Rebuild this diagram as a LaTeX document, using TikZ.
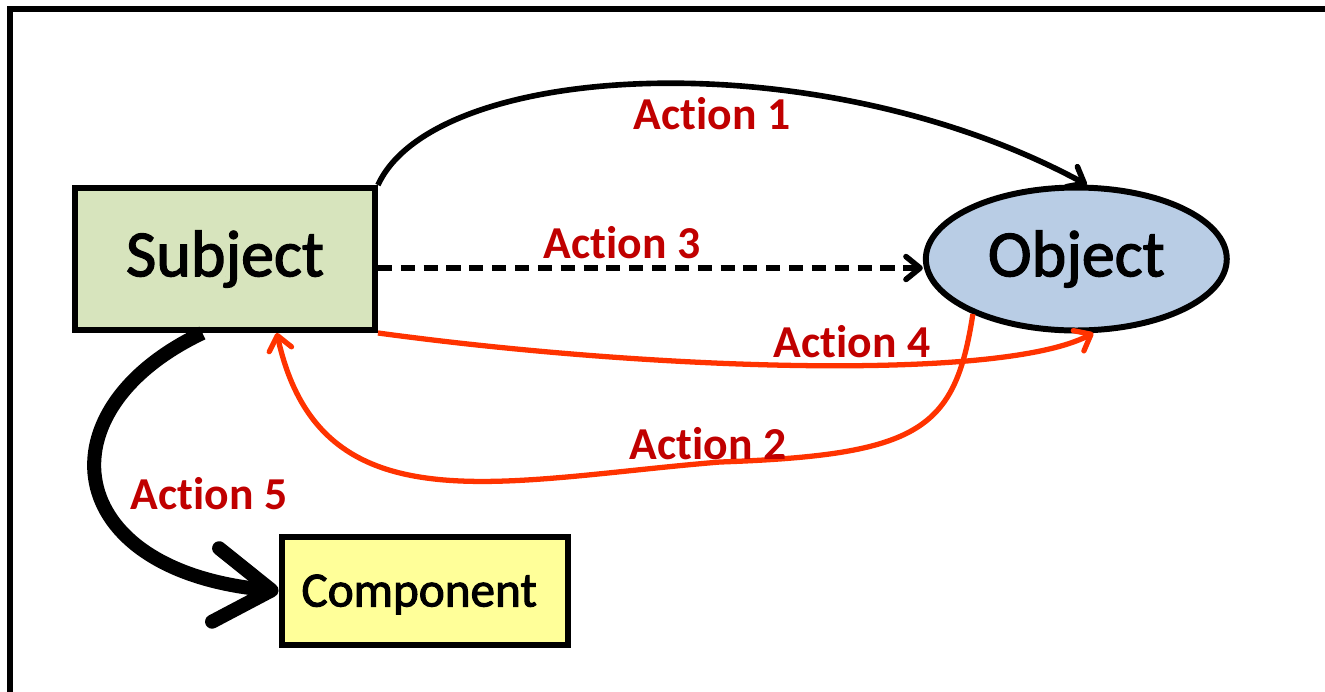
\documentclass[tikz,border=0pt]{standalone}
\usepackage{fontspec}
\setmainfont{Carlito}[Ligatures=NoCommon]
\newfontfamily\nodefont{Carlito}[Ligatures=NoCommon, FakeBold=2]
\usetikzlibrary{positioning,shapes.geometric,arrows.meta}

\definecolor{subjgreen}{HTML}{D7E4BD}
\definecolor{objblue}{HTML}{B9CDE5}
\definecolor{compyellow}{HTML}{FFFF99}
\definecolor{actred}{HTML}{FF3300}
\definecolor{labelred}{HTML}{C00000}

\tikzset{
  subjectbox/.style={draw, line width=3.4pt, fill=subjgreen, inner sep=0pt,
    minimum width=6cm, minimum height=2.84cm, font=\nodefont\fontsize{37.5}{40}\selectfont},
  objectell/.style={ellipse, draw, line width=3.4pt, fill=objblue, inner sep=0pt,
    minimum width=6.02cm, minimum height=2.86cm, font=\nodefont\fontsize{37.5}{40}\selectfont},
  compbox/.style={draw, line width=3.4pt, fill=compyellow, inner xsep=0.4cm, inner ysep=0pt,
    text width=4.94cm, align=left, text height=0.82cm, text depth=0.2cm,
    minimum height=2.16cm, font=\nodefont\fontsize{28}{30}\selectfont},
  actlabel/.style={text=labelred, inner sep=0pt, anchor=base,
    font=\fontsize{26}{28}\selectfont\bfseries},
  act/.style={line width=3.2pt, -{Straight Barb[length=8pt,width=13pt,round]}},
  redact/.style={act, line width=3pt, draw=actred},
}

\begin{document}
\begin{tikzpicture}[x=0.02cm, y=-0.02cm]
  \useasboundingbox (0,0) rectangle (1325,691);
  \clip (0,0) rectangle (1325,691);
  \draw[line width=3.4pt] (10,9) rectangle (1345,715);

  \node[subjectbox] (subject) at (225,259) {Subject};
  \node[objectell] (object) [right=10.9cm of subject] {Object};
  \node[compbox] (comp) at (425,591) {Component};

  % Action 1
  \draw[act] (subject.north east) .. controls (435,60) and (820,40) .. (object.82);
  \node[actlabel] (a1) at (712,129) {Action 1};

  % Action 3
  \draw[act, dash pattern=on 8pt off 5pt] ([yshift=-0.18cm]subject.east) -- ([yshift=-0.18cm]object.west);
  \node[actlabel] (a3) at (622,258) {Action 3};

  % Action 4
  \draw[redact] (subject.south east) .. controls (650,370) and (1000,382) .. (object.-77);
  \node[actlabel] (a4) at (852,357) {Action 4};

  % Action 2
  \draw[redact] (object.-152) .. controls (955,430) and (920,455) .. (720,462)
    .. controls (500,480) and (320,530) .. (subject.-55);
  \node[actlabel] (a2) at (708,459) {Action 2};

  % Action 5
  \draw[line width=8pt, -{Straight Barb[length=32pt,width=42pt,round]}]
    (subject.-107) .. controls (40,410) and (60,570) .. (comp.west);
  \node[actlabel] (a5) at (209,509) {Action 5};

\end{tikzpicture}
\end{document}
